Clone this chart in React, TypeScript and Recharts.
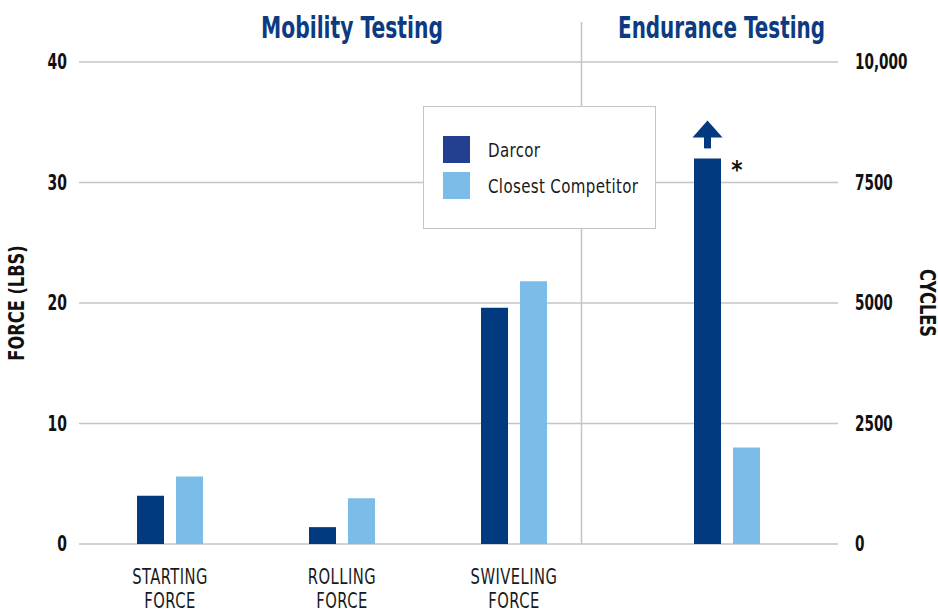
import React from "react";
import {
  BarChart,
  Bar,
  XAxis,
  YAxis,
  CartesianGrid,
  Legend,
  LabelList,
} from "recharts";

const mobilityCategories = ["STARTING FORCE", "ROLLING FORCE", "SWIVELING FORCE"];
const darcorForce = [4.0, 1.4, 19.6];
const competitorForce = [5.6, 3.8, 21.8];

const enduranceCategories = ["ENDURANCE"];
const darcorCycles = [8000];
const competitorCycles = [2000];

const forceTicks = [0, 10, 20, 30, 40];
const cycleTicks = [0, 2500, 5000, 7500, 10000];
const cycleTickLabels = ["0", "2500", "5000", "7500", "10,000"];

const seriesNames = ["Darcor", "Closest Competitor"];
const sectionTitles = ["Mobility Testing", "Endurance Testing"];

const DARK = "#023a80";
const LIGHT = "#7bbde8";
const LEGEND_DARK = "#243f8f";
const GRID = "#c4c4c4";
const TITLE = "#0d3b82";
const FONT = '"DejaVu Sans Condensed", "DejaVu Sans", sans-serif';

const W = 938;
const H = 611;

const mobilityData = mobilityCategories.map((name, i) => ({
  name,
  darcor: darcorForce[i],
  competitor: competitorForce[i],
}));

const enduranceData = enduranceCategories.map((name, i) => ({
  name,
  darcor: darcorCycles[i],
  competitor: competitorCycles[i],
}));

// the original uses a narrow face, squeeze the glyphs horizontally
const NarrowText = ({ x, y, sx = 0.8, rotate = 0, children, ...rest }: any) => (
  <text
    transform={`translate(${x},${y}) rotate(${rotate}) scale(${sx},1)`}
    x={0}
    y={0}
    fontFamily={FONT}
    {...rest}
  >
    {children}
  </text>
);

const CategoryTick = (props: any) => {
  const { x, y, payload } = props;
  const words = String(payload.value).split(" ");
  return (
    <g>
      {words.map((w, i) => (
        <NarrowText
          key={w}
          x={x}
          y={y + 38 + i * 24}
          sx={0.78}
          textAnchor="middle"
          fill="#1a1a1a"
          fontSize={21}
          letterSpacing={0.6}
        >
          {w}
        </NarrowText>
      ))}
    </g>
  );
};

const ForceTick = (props: any) => (
  <NarrowText
    x={props.x}
    y={props.y + 7}
    sx={0.74}
    textAnchor="end"
    fill="#111"
    fontWeight="bold"
    fontSize={21}
  >
    {props.payload.value}
  </NarrowText>
);

const CycleTick = (props: any) => (
  <NarrowText
    x={props.x}
    y={props.y + 7}
    sx={0.72}
    textAnchor="start"
    fill="#111"
    fontWeight="bold"
    fontSize={21}
  >
    {cycleTickLabels[cycleTicks.indexOf(props.payload.value)]}
  </NarrowText>
);

const forceTitle = (props: any) => {
  const vb = props.viewBox;
  return (
    <NarrowText
      x={vb.x + 24}
      y={vb.y + vb.height / 2}
      rotate={-90}
      sx={0.86}
      textAnchor="middle"
      fill="#111"
      fontWeight="bold"
      fontSize={21}
    >
      FORCE (LBS)
    </NarrowText>
  );
};

const cyclesTitle = (props: any) => {
  const vb = props.viewBox;
  return (
    <NarrowText
      x={vb.x + vb.width - 18}
      y={vb.y + vb.height / 2}
      rotate={90}
      sx={0.86}
      textAnchor="middle"
      fill="#111"
      fontWeight="bold"
      fontSize={21}
    >
      CYCLES
    </NarrowText>
  );
};

const legendContent = () => (
  <div
    style={{
      width: 233,
      height: 123,
      boxSizing: "border-box",
      border: `1.5px solid ${GRID}`,
      background: "#fff",
      position: "relative",
      fontFamily: FONT,
      fontSize: 19,
      color: "#1a1a1a",
    }}
  >
    {seriesNames.map((n, i) => (
      <div
        key={n}
        style={{
          position: "absolute",
          left: 19,
          top: 29 + i * 36,
          height: 27,
          display: "flex",
          alignItems: "center",
          whiteSpace: "nowrap",
        }}
      >
        <span
          style={{
            display: "inline-block",
            width: 27,
            height: 27,
            background: i === 0 ? LEGEND_DARK : LIGHT,
            marginRight: 18,
          }}
        />
        <span
          style={{
            display: "inline-block",
            transform: "scaleX(0.88)",
            transformOrigin: "left center",
            letterSpacing: 0.4,
          }}
        >
          {n}
        </span>
      </div>
    ))}
  </div>
);

// "more than" arrow and asterisk above the Darcor endurance bar
const beyondMarker = (props: any) => {
  const { x, y, width } = props;
  const cx = x + width / 2;
  return (
    <g>
      <polygon
        points={`${cx - 15},${y - 21} ${cx},${y - 38} ${cx + 15},${y - 21}`}
        fill={DARK}
      />
      <rect x={cx - 3.5} y={y - 22} width={7} height={12} fill={DARK} />
      <text
        x={x + width + 16}
        y={y + 20}
        textAnchor="middle"
        fontFamily={FONT}
        fontWeight="bold"
        fontSize={24}
        fill="#111"
      >
        *
      </text>
    </g>
  );
};

const layer: React.CSSProperties = { position: "absolute", left: 0, top: 0 };

export default function App() {
  return (
    <div style={{ position: "absolute", left: 0, top: 0, width: W, height: H, background: "#fff" }}>
      {/* section titles and divider */}
      <svg width={W} height={H} style={layer}>
        <line x1={581.5} y1={22} x2={581.5} y2={544} stroke={GRID} strokeWidth={1.5} />
        <text
          x={352}
          y={38}
          textAnchor="middle"
          fontFamily={FONT}
          fontWeight="bold"
          fontSize={31}
          fill={TITLE}
          textLength={182}
          lengthAdjust="spacingAndGlyphs"
        >
          {sectionTitles[0]}
        </text>
        <text
          x={721.5}
          y={38}
          textAnchor="middle"
          fontFamily={FONT}
          fontWeight="bold"
          fontSize={31}
          fill={TITLE}
          textLength={207}
          lengthAdjust="spacingAndGlyphs"
        >
          {sectionTitles[1]}
        </text>
      </svg>

      <div style={layer}>
        <BarChart
          width={W}
          height={H}
          data={mobilityData}
          margin={{ top: 62, right: 100, bottom: 0, left: 0 }}
          barSize={27}
          barGap={12}
        >
          <CartesianGrid vertical={false} stroke={GRID} strokeWidth={1.5} />
          <XAxis
            dataKey="name"
            height={67}
            tickLine={false}
            axisLine={false}
            tickSize={0}
            interval={0}
            padding={{ left: 5, right: 238 }}
            tick={<CategoryTick />}
          />
          <YAxis
            orientation="left"
            width={79}
            domain={[0, 40]}
            ticks={forceTicks}
            tickLine={false}
            axisLine={false}
            tickSize={0}
            tickMargin={12}
            tick={<ForceTick />}
            label={{ content: forceTitle }}
          />
          <Legend
            verticalAlign="middle"
            align="center"
            content={legendContent}
            wrapperStyle={{ left: 423, top: 106, width: 233, height: 123 }}
          />
          <Bar dataKey="darcor" name={seriesNames[0]} fill={DARK} isAnimationActive={false} />
          <Bar dataKey="competitor" name={seriesNames[1]} fill={LIGHT} isAnimationActive={false} />
        </BarChart>
      </div>

      <div style={layer}>
        <BarChart
          width={W}
          height={H}
          data={enduranceData}
          margin={{ top: 62, right: 0, bottom: 67, left: 79 }}
          barSize={27}
          barGap={12}
        >
          <XAxis dataKey="name" hide padding={{ left: 562, right: 25 }} />
          <YAxis
            yAxisId="cycles"
            orientation="right"
            width={100}
            domain={[0, 10000]}
            ticks={cycleTicks}
            tickLine={false}
            axisLine={false}
            tickSize={0}
            tickMargin={17}
            tick={<CycleTick />}
            label={{ content: cyclesTitle }}
          />
          <Bar
            yAxisId="cycles"
            dataKey="darcor"
            name={seriesNames[0]}
            fill={DARK}
            isAnimationActive={false}
          >
            <LabelList dataKey="darcor" content={beyondMarker} />
          </Bar>
          <Bar
            yAxisId="cycles"
            dataKey="competitor"
            name={seriesNames[1]}
            fill={LIGHT}
            isAnimationActive={false}
          />
        </BarChart>
      </div>
    </div>
  );
}
